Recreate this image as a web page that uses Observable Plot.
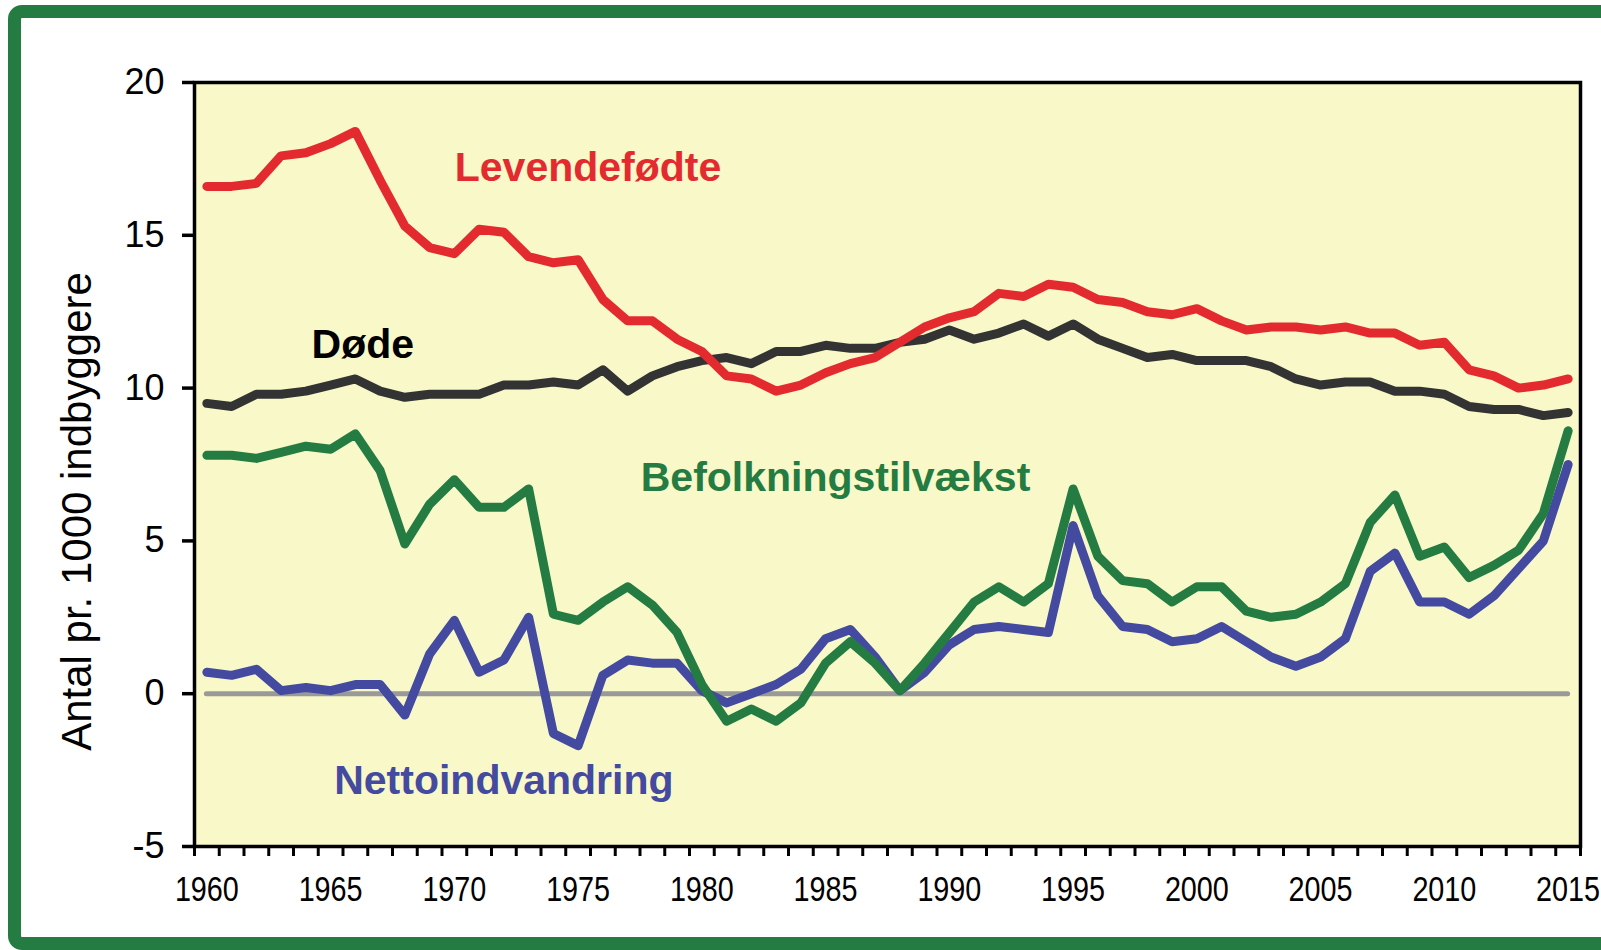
<!DOCTYPE html>
<html>
<head>
<meta charset="utf-8">
<script src="https://cdn.jsdelivr.net/npm/d3@7"></script>
<script src="https://cdn.jsdelivr.net/npm/@observablehq/plot@0.6"></script>
<style>
  html, body { margin: 0; padding: 0; overflow: hidden; background: #fff; width: 1601px; height: 950px; }
  #border { position: absolute; left: 8px; top: 5px; width: 1640px; height: 919px; border: 13px solid #257c42; border-radius: 14px; }
  #chart { position: absolute; left: 0; top: 0; }
  #chart svg { background: transparent; max-width: none; }
</style>
</head>
<body>
<div id="border"></div>
<div id="chart"></div>
<script>
const years = d3.range(1960, 2016);
const levendefodte = [16.6,16.6,16.7,17.6,17.7,18.0,18.4,16.8,15.3,14.6,14.4,15.2,15.1,14.3,14.1,14.2,12.9,12.2,12.2,11.6,11.2,10.4,10.3,9.9,10.1,10.5,10.8,11.0,11.5,12.0,12.3,12.5,13.1,13.0,13.4,13.3,12.9,12.8,12.5,12.4,12.6,12.2,11.9,12.0,12.0,11.9,12.0,11.8,11.8,11.4,11.5,10.6,10.4,10.0,10.1,10.3];
const dode = [9.5,9.4,9.8,9.8,9.9,10.1,10.3,9.9,9.7,9.8,9.8,9.8,10.1,10.1,10.2,10.1,10.6,9.9,10.4,10.7,10.9,11.0,10.8,11.2,11.2,11.4,11.3,11.3,11.5,11.6,11.9,11.6,11.8,12.1,11.7,12.1,11.6,11.3,11.0,11.1,10.9,10.9,10.9,10.7,10.3,10.1,10.2,10.2,9.9,9.9,9.8,9.4,9.3,9.3,9.1,9.2];
const befolkningstilvaekst = [7.8,7.8,7.7,7.9,8.1,8.0,8.5,7.3,4.9,6.2,7.0,6.1,6.1,6.7,2.6,2.4,3.0,3.5,2.9,2.0,0.3,-0.9,-0.5,-0.9,-0.3,1.0,1.7,1.0,0.1,1.0,2.0,3.0,3.5,3.0,3.6,6.7,4.5,3.7,3.6,3.0,3.5,3.5,2.7,2.5,2.6,3.0,3.6,5.6,6.5,4.5,4.8,3.8,4.2,4.7,5.9,8.6];
const nettoindvandring = [0.7,0.6,0.8,0.1,0.2,0.1,0.3,0.3,-0.7,1.3,2.4,0.7,1.1,2.5,-1.3,-1.7,0.6,1.1,1.0,1.0,0.1,-0.3,0.0,0.3,0.8,1.8,2.1,1.2,0.1,0.7,1.6,2.1,2.2,2.1,2.0,5.5,3.2,2.2,2.1,1.7,1.8,2.2,1.7,1.2,0.9,1.2,1.8,4.0,4.6,3.0,3.0,2.6,3.2,4.1,5.0,7.5];

const seriesNames = ["Nettoindvandring", "Befolkningstilvækst", "Døde", "Levendefødte"];
const seriesValues = [nettoindvandring, befolkningstilvaekst, dode, levendefodte];
const seriesColors = ["#434aa0", "#247c42", "#333333", "#e32b2f"];
const labelColors = ["#434aa0", "#247c42", "#000000", "#e32b2f"];
const labelYears = [1972.0, 1985.4, 1966.3, 1975.4];
const labelValues = [-2.85, 7.05, 11.4, 17.2];

const xTickYears = [1960, 1965, 1970, 1975, 1980, 1985, 1990, 1995, 2000, 2005, 2010, 2015];
const yTicks = [-5, 0, 5, 10, 15, 20];
const yLabel = "Antal pr. 1000 indbyggere";

const rows = seriesNames.flatMap((s, i) => years.map((yr, j) => ({series: s, year: yr, value: seriesValues[i][j]})));
const labels = seriesNames.map((s, i) => ({name: s, year: labelYears[i], value: labelValues[i], color: labelColors[i]}));
const edgeTicks = years.map(y => y - 0.5).concat([years[years.length - 1] + 0.5]);

const plot = Plot.plot({
  width: 1601,
  height: 950,
  marginLeft: 194,
  marginRight: 21,
  marginTop: 82,
  marginBottom: 104,
  style: {background: "transparent", fontFamily: "'Liberation Sans', Arial, sans-serif", color: "#000"},
  x: {domain: [edgeTicks[0], edgeTicks[edgeTicks.length - 1]], axis: null},
  y: {domain: [-5, 20], axis: null},
  color: {domain: seriesNames, range: seriesColors},
  marks: [
    Plot.frame({fill: "#f8f8c8", stroke: "none"}),
    Plot.ruleY([0], {x1: years[0], x2: years[years.length - 1], stroke: "#999999", strokeWidth: 5, strokeLinecap: "round"}),
    Plot.line(rows, {x: "year", y: "value", z: "series", stroke: "series", strokeWidth: 9, strokeLinejoin: "round", strokeLinecap: "round"}),
    Plot.text(labels, {x: "year", y: "value", text: "name", fill: "color", fontSize: 41, fontWeight: "bold", textAnchor: "middle", lineAnchor: "middle"}),
    Plot.frame({stroke: "#000", strokeWidth: 3.5}),
    Plot.axisY(yTicks, {anchor: "left", tickSize: 12, tickPadding: 18, strokeWidth: 3.5, fontSize: 36, tickFormat: d => String(d), label: null}),
    Plot.axisX(edgeTicks, {anchor: "bottom", tickSize: 10, strokeWidth: 3, tickFormat: () => "", label: null}),
    Plot.axisX(xTickYears, {anchor: "bottom", tickSize: 0, tickPadding: 30, fontSize: 35, tickFormat: d => String(d), label: null}),
    Plot.text([yLabel], {frameAnchor: "left", rotate: -90, dx: -117, dy: 47, fontSize: 42, textAnchor: "middle", lineAnchor: "middle", fill: "#000"})
  ]
});
document.getElementById("chart").appendChild(plot);
// condense the year labels like the reference's narrow font
plot.querySelectorAll("text").forEach(t => {
  if (/^\d{4}$/.test(t.textContent.trim())) {
    t.setAttribute("textLength", "64");
    t.setAttribute("lengthAdjust", "spacingAndGlyphs");
  }
});
</script>
</body>
</html>
